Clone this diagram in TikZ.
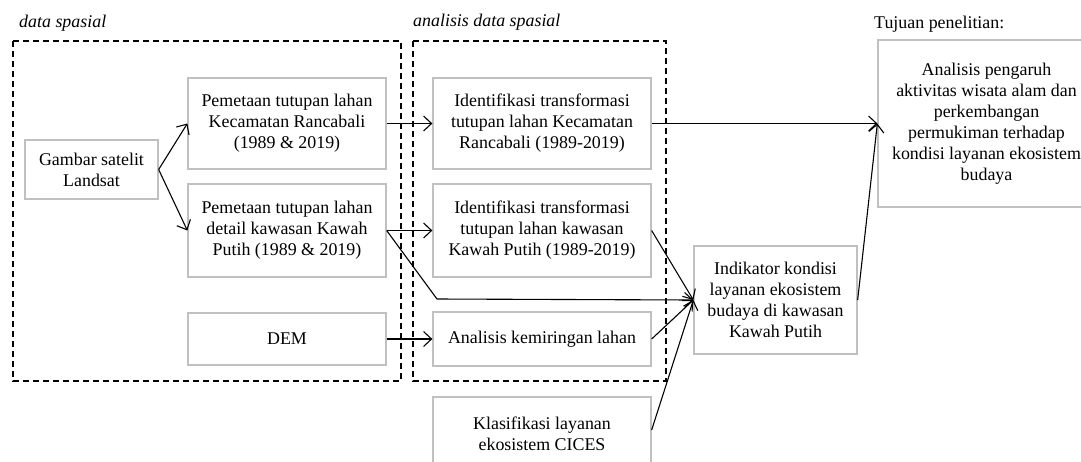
\documentclass[tikz,border=0pt]{standalone}
\usepackage{fontspec}
\setmainfont{Liberation Serif}
\usetikzlibrary{arrows.meta}

\begin{document}
\begin{tikzpicture}[x=1pt,y=1pt,yscale=-1,xscale=1,
    kotak/.style={draw={rgb,255:red,192;green,192;blue,192},line width=1.3pt,align=center,inner sep=0pt,
      font=\fontsize{17.9}{21}\selectfont},
    panah/.style={line width=1.1pt,-{Straight Barb[length=8pt,width=15pt,line width=1.1pt]}},
    garis/.style={line width=1.1pt},
    putus/.style={line width=1.2pt,dash pattern=on 6pt off 4pt},
    judul/.style={anchor=base west,inner sep=0pt,font=\fontsize{17.9}{21}\selectfont}]
\useasboundingbox (0,0) rectangle (1081,461);

%Dashed Boxes
    \draw [putus] (13,41) rectangle (401,381) ;
    \draw [putus] (413,41) rectangle (666,381) ;

% Text Node
    \node (jdata) [judul] at (19,27) {\itshape data spasial};
% Text Node
    \node (janalisis) [judul] at (413,26) {\itshape analisis data spasial};
% Text Node
    \node (jtujuan) [judul] at (874,28) {Tujuan penelitian:};

% Boxes
    \node (gambar) [kotak,minimum width=133pt,minimum height=59pt] at (91.5,169.5) {Gambar satelit\\Landsat};
    \node (petaA) [kotak,minimum width=198pt,minimum height=91pt] at (287,123.5) {Pemetaan tutupan lahan\\Kecamatan Rancabali\\(1989 \& 2019)};
    \node (petaB) [kotak,minimum width=198pt,minimum height=93pt] at (287,230.5) {Pemetaan tutupan lahan\\detail kawasan Kawah\\Putih (1989 \& 2019)};
    \node (dem) [kotak,minimum width=198pt,minimum height=52pt] at (287,339) {DEM};
    \node (idA) [kotak,minimum width=218pt,minimum height=91pt] at (542,123.5) {Identifikasi transformasi\\tutupan lahan Kecamatan\\Rancabali (1989-2019)};
    \node (idB) [kotak,minimum width=218pt,minimum height=93pt] at (542,230.5) {Identifikasi transformasi\\tutupan lahan kawasan\\Kawah Putih (1989-2019)};
    \node (miring) [kotak,minimum width=218pt,minimum height=54pt] at (542,339) {Analisis kemiringan lahan};
    \node (cices) [kotak,minimum width=218pt,minimum height=74pt] at (542,434) {Klasifikasi layanan\\ekosistem CICES};
    \node (indikator) [kotak,minimum width=163pt,minimum height=108pt] at (775.5,300) {Indikator kondisi\\layanan ekosistem\\budaya di kawasan\\Kawah Putih};
    \node (tujuan) [kotak,minimum width=217pt,minimum height=167pt] at (986.5,123.5) {Analisis pengaruh\\aktivitas wisata alam dan\\perkembangan\\permukiman terhadap\\kondisi layanan ekosistem\\budaya};

%Straight Lines
    \coordinate (tekuk) at (437,299);
    \draw [panah] (gambar.east) -- (petaA.west) ;
    \draw [panah] (gambar.east) -- (petaB.west) ;
    \draw [panah] (petaA.east) -- (idA.west) ;
    \draw [panah] (petaB.east) -- (idB.west) ;
    \draw [panah] (dem.east) -- (miring.west) ;
    \draw [panah] (petaB.east) -- (tekuk) -- (indikator.west) ;
    \draw [panah] (idB.east) -- (indikator.west) ;
    \draw [panah] (miring.east) -- (indikator.west) ;
    \draw [panah] ([yshift=-4pt]cices.east) -- (indikator.west) ;
    \draw [panah] (idA.east) -- (tujuan.west) ;
    \draw [panah] (indikator.east) -- (tujuan.west) ;
\end{tikzpicture}
\end{document}
